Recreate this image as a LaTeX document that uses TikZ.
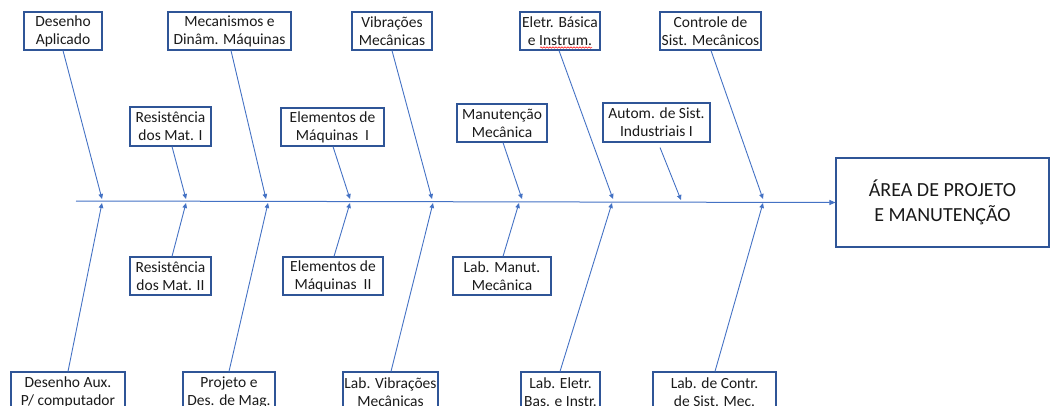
\documentclass[tikz,border=0pt]{standalone}
\usepackage{fontspec}
\setmainfont{Carlito}
\usetikzlibrary{arrows.meta,decorations.pathmorphing}
\definecolor{boxc}{HTML}{2F5597}
\definecolor{linec}{HTML}{4472C4}
\definecolor{txtc}{HTML}{1A1A1A}
\tikzset{
  box/.style={draw=boxc, line width=1.1pt, inner sep=0pt, align=center,
    text=txtc, font=\fontsize{15.5pt}{18pt}\selectfont},
  bigbox/.style={draw=boxc, line width=1.1pt, inner sep=0pt, align=center,
    text=txtc, font=\fontsize{20pt}{25pt}\selectfont},
  br/.style={draw=linec, line width=0.9pt, -{Triangle[length=5pt,width=4.5pt]}},
  spineline/.style={draw=linec, line width=1pt, -{Triangle[length=6pt,width=5pt]}},
  squig/.style={draw=red, line width=0.5pt, decorate,
    decoration={snake, segment length=3pt, amplitude=0.7pt}}
}
\begin{document}
\begin{tikzpicture}[x=1pt,y=-1pt]
\clip (0,0) rectangle (1050,405);
% top row 1
\node[box, minimum width=78pt, minimum height=38pt] (da) at (63,31) {Desenho\\Aplicado};
\node[box, minimum width=123pt, minimum height=38pt] (mec) at (229.5,31) {Mecanismos e\\Dinâm. Máquinas};
\node[box, minimum width=80pt, minimum height=38pt] (vib) at (392,31) {Vibrações\\Mecânicas};
\node[box, minimum width=80pt, minimum height=38pt] (elet) at (560,31) {Eletr. Básica\\e Instrum.};
\node[box, minimum width=101pt, minimum height=38pt] (ctrl) at (710.5,31) {Controle de\\Sist. Mecânicos};
% top row 2
\node[box, minimum width=81pt, minimum height=39pt] (rm1) at (170.5,126.5) {Resistência\\dos Mat. I};
\node[box, minimum width=103pt, minimum height=38pt] (em1) at (332.5,127) {Elementos de\\Máquinas\ \ I};
\node[box, minimum width=90pt, minimum height=38pt] (man) at (502,123) {Manutenção\\Mecânica};
\node[box, minimum width=107pt, minimum height=39pt] (aut) at (656.5,122.5) {Autom. de Sist.\\Industriais I};
% bottom row 3
\node[box, minimum width=81pt, minimum height=38pt] (rm2) at (170.5,276) {Resistência\\dos Mat. II};
\node[box, minimum width=100pt, minimum height=38pt] (em2) at (333,276) {Elementos de\\Máquinas\ \ II};
\node[box, minimum width=98pt, minimum height=38pt] (lman) at (502,276) {Lab. Manut.\\Mecânica};
% bottom row 4
\node[box, minimum width=114pt, minimum height=40pt] (daux) at (68,392) {Desenho Aux.\\P/ computador};
\node[box, minimum width=92pt, minimum height=40pt] (proj) at (229,392) {Projeto e\\Des. de Mag.};
\node[box, minimum width=95pt, minimum height=40pt] (lvib) at (390.5,392) {Lab. Vibrações\\Mecânicas};
\node[box, minimum width=79pt, minimum height=40pt] (lel) at (560.5,392) {Lab. Eletr.\\Bas. e Instr.};
\node[box, minimum width=123pt, minimum height=40pt] (lctrl) at (714.5,392) {Lab. de Contr.\\de Sist. Mec.};
% head
\node[bigbox, minimum width=213pt, minimum height=89pt] (big) at (942.5,202.5) {ÁREA DE PROJETO\\E MANUTENÇÃO};
% spell-check underline
\coordinate (sq0) at (540,47.5);
\coordinate (sq1) at (592,47.5);
\draw[squig] (sq0) -- (sq1);
% spine
\coordinate (s0) at (76,201);
\draw[spineline] (s0) -- (big.west);
% arrow ends on spine
\coordinate (tda) at (102,199);
\coordinate (tmec) at (266,199);
\coordinate (tvib) at (432,199);
\coordinate (telet) at (613,199);
\coordinate (tctrl) at (763,199);
\coordinate (trm1) at (186,199);
\coordinate (tem1) at (350,199);
\coordinate (tman) at (522,199);
\coordinate (taut) at (681,200);
\coordinate (brm2) at (186,203);
\coordinate (bem2) at (350,203);
\coordinate (blman) at (519,203);
\coordinate (bdaux) at (102,203);
\coordinate (bproj) at (268,203);
\coordinate (blvib) at (433,203);
\coordinate (blel) at (612,203);
\coordinate (blctrl) at (763,203);
% branches
\draw[br] (da.south) -- (tda);
\draw[br] ([xshift=1.5pt]mec.south) -- (tmec);
\draw[br] (vib.south) -- (tvib);
\draw[br] ([xshift=-1pt]elet.south) -- (telet);
\draw[br] ([xshift=0.5pt]ctrl.south) -- (tctrl);
\draw[br] ([xshift=1.5pt]rm1.south) -- (trm1);
\draw[br] ([xshift=0.5pt]em1.south) -- (tem1);
\draw[br] ([xshift=1pt]man.south) -- (tman);
\draw[br] ([xshift=3.5pt,yshift=-5pt]aut.south) -- (taut);
\draw[br] ([xshift=1.5pt]rm2.north) -- (brm2);
\draw[br] ([xshift=1pt]em2.north) -- (bem2);
\draw[br] ([xshift=1pt]lman.north) -- (blman);
\draw[br] (daux.north) -- (bdaux);
\draw[br] (proj.north) -- (bproj);
\draw[br] ([xshift=0.5pt]lvib.north) -- (blvib);
\draw[br] ([xshift=-0.5pt]lel.north) -- (blel);
\draw[br] ([xshift=0.5pt]lctrl.north) -- (blctrl);
\end{tikzpicture}
\end{document}
